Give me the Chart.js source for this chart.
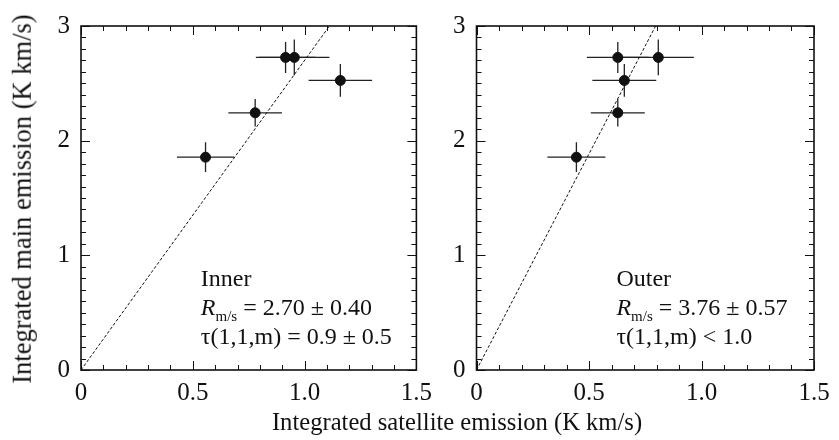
<!DOCTYPE html>
<html>
<head>
<meta charset="utf-8">
<script src="https://cdn.jsdelivr.net/npm/chart.js@4.4.1/dist/chart.umd.min.js"></script>
<style>
  body { margin: 0; background: #fff; }
  #wrap { position: relative; width: 839px; height: 440px; overflow: hidden; }
  canvas { position: absolute; top: 0; }
  .title { position: absolute; white-space: nowrap; line-height: 1;
    font-family: "Liberation Serif", serif; color: #111; }
  #xtitle { left: 0; width: 914px; top: 410px; text-align: center; font-size: 24.6px; }
  #ytitle { left: 22px; top: 198.5px; font-size: 26.5px;
    transform: translate(-50%, -50%) rotate(-90deg); }
</style>
</head>
<body>
<div id="wrap">
  <canvas id="inner" width="440" height="440" style="left:0"></canvas>
  <canvas id="outer" width="409" height="440" style="left:430px"></canvas>
  <div id="xtitle" class="title">Integrated satellite emission (K km/s)</div>
  <div id="ytitle" class="title">Integrated main emission (K km/s)</div>
</div>
<script>
'use strict'

// 目盛り
const xTicks = [0, 0.5, 1, 1.5];
const yTicks = [0, 1, 2, 3];

// Inner
const innerX = [0.557, 0.779, 0.915, 0.954, 1.160];
const innerY = [1.856, 2.243, 2.726, 2.726, 2.525];
const innerXerr = [0.128, 0.120, 0.133, 0.157, 0.142];
const innerYerr = [0.130, 0.120, 0.135, 0.156, 0.143];
const innerFitX = [0, 1.111];
const innerFitY = [0, 3];

// Outer
const outerX = [0.444, 0.628, 0.657, 0.628, 0.808];
const outerY = [1.856, 2.243, 2.525, 2.726, 2.726];
const outerXerr = [0.129, 0.120, 0.142, 0.137, 0.158];
const outerYerr = [0.130, 0.120, 0.143, 0.135, 0.156];
const outerFitX = [0, 0.796];
const outerFitY = [0, 3];

const FONT = '"Liberation Serif", serif';
const INK = '#111';

function pts(xs, ys) {
    return xs.map((v, i) => ({x: v, y: ys[i]}));
}

function makePanel(id, xs, ys, xerr, yerr, fitX, fitY, note, yWidth, padRight, noteX) {
    const errorBars = {
        id: 'errorBars',
        beforeDatasetsDraw(chart) {
            const {ctx, scales: {x, y}} = chart;
            ctx.save();
            ctx.strokeStyle = '#222';
            ctx.lineWidth = 1.3;
            for (let i = 0; i < xs.length; i++) {
                const px = x.getPixelForValue(xs[i]);
                const py = y.getPixelForValue(ys[i]);
                ctx.beginPath();
                ctx.moveTo(x.getPixelForValue(xs[i] - xerr[i]), py);
                ctx.lineTo(x.getPixelForValue(xs[i] + xerr[i]), py);
                ctx.moveTo(px, y.getPixelForValue(ys[i] - yerr[i]));
                ctx.lineTo(px, y.getPixelForValue(ys[i] + yerr[i]));
                ctx.stroke();
            }
            ctx.restore();
        }
    };

    const frame = {
        id: 'frame',
        afterDraw(chart) {
            const {ctx, chartArea: a, scales: {x, y}} = chart;
            ctx.save();
            ctx.strokeStyle = INK;
            ctx.lineWidth = 1;
            ctx.beginPath();
            for (let i = 0; i <= 15; i++) {
                const px = Math.round(x.getPixelForValue(i / 10)) + 0.5;
                const len = i % 5 === 0 ? 9 : 5;
                ctx.moveTo(px, a.bottom); ctx.lineTo(px, a.bottom - len);
                ctx.moveTo(px, a.top); ctx.lineTo(px, a.top + len);
            }
            for (let i = 0; i <= 30; i++) {
                const py = Math.round(y.getPixelForValue(i / 10)) + 0.5;
                const len = i % 10 === 0 ? 9 : 5;
                ctx.moveTo(a.left, py); ctx.lineTo(a.left + len, py);
                ctx.moveTo(a.right, py); ctx.lineTo(a.right - len, py);
            }
            ctx.stroke();
            ctx.lineWidth = 1.6;
            ctx.strokeRect(a.left, a.top, a.right - a.left, a.bottom - a.top);

            // 注記
            ctx.fillStyle = INK;
            ctx.textBaseline = 'alphabetic';
            const tx = x.getPixelForValue(noteX);
            ctx.font = '24px ' + FONT;
            ctx.fillText(note[0], tx, y.getPixelForValue(0.729));
            let b = y.getPixelForValue(0.483);
            ctx.font = 'italic 24px ' + FONT;
            ctx.fillText('R', tx, b);
            let cx = tx + ctx.measureText('R').width;
            ctx.font = '15px ' + FONT;
            ctx.fillText('m/s', cx, b + 6);
            cx += ctx.measureText('m/s').width;
            ctx.font = '24px ' + FONT;
            ctx.fillText(' ' + note[1], cx, b);
            ctx.fillText(note[2], tx, y.getPixelForValue(0.229));
            ctx.restore();
        }
    };

    return new Chart(document.getElementById(id), {
        type: 'scatter',
        data: {
            datasets: [{
                data: pts(fitX, fitY),
                showLine: true,
                borderColor: INK,
                borderWidth: 1,
                borderDash: [3, 2],
                pointRadius: 0
            }, {
                data: pts(xs, ys),
                backgroundColor: INK,
                borderColor: INK,
                pointRadius: 5
            }]
        },
        options: {
            responsive: false,
            animation: false,
            layout: {padding: {left: 0, right: padRight, top: 16, bottom: 0}},
            plugins: {legend: {display: false}, tooltip: {enabled: false}},
            scales: {
                x: {
                    type: 'linear', min: 0, max: 1.5,
                    grid: {display: false, drawTicks: false},
                    border: {display: false},
                    afterBuildTicks: s => { s.ticks = xTicks.map(v => ({value: v})); },
                    afterFit: s => { s.height = 70; },
                    ticks: {color: INK, padding: 8, maxRotation: 0, font: {family: FONT, size: 25}}
                },
                y: {
                    type: 'linear', min: 0, max: 3,
                    grid: {display: false, drawTicks: false},
                    border: {display: false},
                    afterBuildTicks: s => { s.ticks = yTicks.map(v => ({value: v})); },
                    afterFit: s => { s.width = yWidth; },
                    ticks: {color: INK, padding: 11, font: {family: FONT, size: 25}}
                }
            }
        },
        plugins: [errorBars, frame]
    });
}

makePanel('inner', innerX, innerY, innerXerr, innerYerr, innerFitX, innerFitY,
    ['Inner', '= 2.70 \u00b1 0.40', '\u03c4(1,1,m) = 0.9 \u00b1 0.5'], 81, 21.5, 0.536);
makePanel('outer', outerX, outerY, outerXerr, outerYerr, outerFitX, outerFitY,
    ['Outer', '= 3.76 \u00b1 0.57', '\u03c4(1,1,m) < 1.0'], 46.5, 25, 0.622);
</script>
</body>
</html>
